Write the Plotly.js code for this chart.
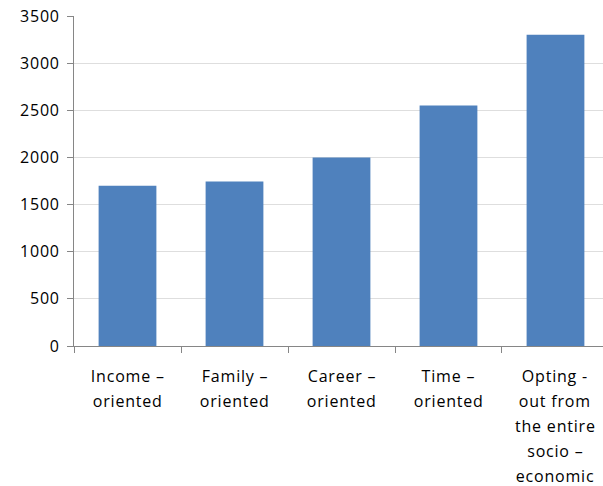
<!DOCTYPE html>
<html>
<head>
<meta charset="utf-8">
<script src="https://cdn.plot.ly/plotly-3.0.1.min.js"></script>
<style>
html,body{margin:0;padding:0;background:#fff;}
#chart{width:603px;height:486px;}
#chart .ytick text, #chart .annotation-text{letter-spacing:0.8px;}
</style>
</head>
<body>
<div id="chart"></div>
<script>
var categories = ["Income – oriented", "Family – oriented", "Career – oriented", "Time – oriented", "Opting - out from the entire socio – economic"];
var labelLines = [
  ["Income –", "oriented"],
  ["Family –", "oriented"],
  ["Career –", "oriented"],
  ["Time –", "oriented"],
  ["Opting -", "out from", "the entire", "socio –", "economic"]
];
var values = [1700, 1745, 2000, 2550, 3300];
var yTicks = [0, 500, 1000, 1500, 2000, 2500, 3000, 3500];

var FONT = "Open Sans, Lato, DejaVu Sans, sans-serif";
var annotations = [];
labelLines.forEach(function (lines, i) {
  lines.forEach(function (t, j) {
    annotations.push({
      x: categories[i], xref: "x", y: 0, yref: "paper",
      text: t, showarrow: false, xanchor: "center", yanchor: "middle",
      yshift: -(30 + 25 * j),
      font: {family: FONT, size: 16, color: "#000"}
    });
  });
});

var trace = {
  type: "bar", x: categories, y: values,
  marker: {color: "#4f81bd"}, hoverinfo: "none"
};

var layout = {
  width: 603, height: 486,
  margin: {l: 74, r: 0, t: 16, b: 140, pad: 0},
  paper_bgcolor: "#fff", plot_bgcolor: "#fff",
  showlegend: false,
  bargap: 0.46,
  xaxis: {
    type: "category", range: [-0.5, 4.444],
    showticklabels: false, ticks: "outside", tickson: "boundaries",
    ticklen: 6, tickcolor: "#868686", tickwidth: 1,
    showline: true, linecolor: "#868686", linewidth: 1,
    showgrid: false, zeroline: false, fixedrange: true
  },
  yaxis: {
    range: [0, 3500], tickvals: yTicks, ticktext: yTicks.map(String),
    ticks: "outside", ticklen: 6, tickcolor: "#868686", tickwidth: 1,
    showline: true, linecolor: "#868686", linewidth: 1,
    showgrid: true, gridcolor: "#dedede", gridwidth: 1,
    zeroline: false, ticklabelstandoff: 4,
    tickfont: {family: FONT, size: 16, color: "#000"}, fixedrange: true
  },
  annotations: annotations
};

Plotly.newPlot("chart", [trace], layout, {displayModeBar: false, staticPlot: true});
</script>
</body>
</html>
